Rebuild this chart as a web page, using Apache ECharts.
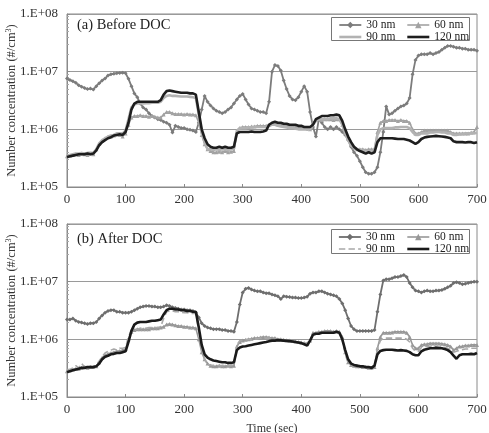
<!DOCTYPE html>
<html>
<head>
<meta charset="utf-8">
<script src="https://cdn.jsdelivr.net/npm/echarts@6/dist/echarts.min.js"></script>
<style>
html,body{margin:0;padding:0;background:#fff;}
#c{width:489px;height:433px;}
</style>
</head>
<body>
<div id="c"></div>
<script>
const time = [0,5,10,15,20,25,30,35,40,45,50,55,60,65,70,75,80,85,90,95,100,105,110,115,120,125,130,135,140,145,150,155,160,165,170,175,180,185,190,195,200,205,210,215,220,225,230,235,240,245,250,255,260,265,270,275,280,285,290,295,300,305,310,315,320,325,330,335,340,345,350,355,360,365,370,375,380,385,390,395,400,405,410,415,420,425,430,435,440,445,450,455,460,465,470,475,480,485,490,495,500,505,510,515,520,525,530,535,540,545,550,555,560,565,570,575,580,585,590,595,600,605,610,615,620,625,630,635,640,645,650,655,660,665,670,675,680,685,690,695,700];

const seriesNames = ['30 nm','60 nm','90 nm','120 nm'];
const panelTitles = ['(a) Before DOC','(b) After DOC'];
const xTicks = [0,100,200,300,400,500,600,700];

// (a) Before DOC
const a30 = [7.6e6,7.2e6,6.8e6,6.4e6,5.8e6,5.5e6,5.2e6,5.0e6,5.1e6,4.9e6,
5.6e6,6.3e6,7.0e6,7.6e6,8.6e6,9.0e6,9.2e6,9.4e6,9.5e6,9.6e6,
9.4e6,7.5e6,5.6e6,4.2e6,3.6e6,2.8e6,2.4e6,2.2e6,1.9e6,1.7e6,
1.6e6,1.5e6,1.45e6,1.35e6,1.3e6,1.2e6,8.8e5,1.15e6,1.1e6,1.05e6,
1.05e6,1.0e6,9.8e5,9.5e5,9.0e5,1.3e6,2.2e6,3.8e6,3.0e6,2.6e6,
2.3e6,2.1e6,2.0e6,1.9e6,2.0e6,2.2e6,2.4e6,2.8e6,3.3e6,3.8e6,
4.1e6,3.3e6,2.7e6,2.3e6,2.2e6,2.1e6,2.0e6,2.0e6,1.9e6,3.0e6,
1.0e7,1.3e7,1.25e7,1.05e7,7.0e6,5.0e6,3.8e6,3.3e6,3.2e6,3.6e6,
4.5e6,5.6e6,4.5e6,2.0e6,1.1e6,7.5e5,1.5e6,1.3e6,1.1e6,1.0e6,
1.1e6,1.0e6,1.1e6,1.0e6,9.0e5,8.0e5,6.5e5,5.0e5,4.0e5,3.5e5,
2.8e5,2.2e5,1.8e5,1.7e5,1.7e5,1.8e5,2.2e5,4.0e5,9.0e5,2.5e6,
1.8e6,1.9e6,2.1e6,2.3e6,2.5e6,2.6e6,2.8e6,3.5e6,9.0e6,1.6e7,
1.9e7,2.0e7,2.0e7,2.0e7,2.1e7,2.0e7,2.1e7,2.2e7,2.4e7,2.6e7,
2.8e7,2.8e7,2.7e7,2.6e7,2.6e7,2.5e7,2.5e7,2.4e7,2.4e7,2.4e7,
2.3e7];
const a60 = [3.4e5,3.5e5,3.6e5,3.7e5,3.6e5,3.8e5,3.7e5,3.6e5,3.8e5,3.7e5,
4.5e5,5.6e5,6.3e5,7.0e5,7.4e5,7.5e5,7.8e5,8.2e5,8.0e5,7.5e5,
8.5e5,1.2e6,1.6e6,1.7e6,1.7e6,1.75e6,1.7e6,1.7e6,1.65e6,1.7e6,
1.65e6,1.6e6,1.6e6,1.8e6,2.0e6,2.0e6,1.9e6,1.85e6,1.85e6,1.85e6,
1.8e6,1.85e6,1.8e6,1.8e6,1.75e6,1.3e6,8.0e5,5.5e5,4.5e5,4.2e5,
4.0e5,4.0e5,4.1e5,4.0e5,4.2e5,4.0e5,4.1e5,4.2e5,9.0e5,1.05e6,
1.1e6,1.1e6,1.1e6,1.12e6,1.12e6,1.15e6,1.15e6,1.15e6,1.15e6,1.2e6,
1.25e6,1.25e6,1.22e6,1.2e6,1.2e6,1.15e6,1.15e6,1.12e6,1.1e6,1.1e6,
1.08e6,1.05e6,1.05e6,1.0e6,1.3e6,1.45e6,1.5e6,1.45e6,1.5e6,1.5e6,
1.5e6,1.45e6,1.5e6,1.5e6,1.2e6,9.0e5,7.0e5,5.5e5,4.8e5,4.5e5,
4.5e5,4.5e5,4.4e5,4.5e5,4.5e5,4.5e5,9.0e5,1.3e6,1.4e6,1.4e6,
1.45e6,1.45e6,1.45e6,1.4e6,1.45e6,1.4e6,1.4e6,1.3e6,1.0e6,8.5e5,
8.5e5,9.0e5,9.5e5,9.5e5,9.5e5,9.5e5,9.5e5,9.5e5,9.5e5,9.5e5,
9.5e5,9.0e5,8.5e5,8.5e5,8.5e5,8.5e5,8.5e5,8.5e5,8.8e5,9.0e5,
1.1e6];
const a90 = [3.5e5,3.6e5,3.7e5,3.8e5,3.8e5,3.9e5,3.8e5,3.9e5,3.9e5,3.9e5,
4.5e5,5.7e5,6.5e5,7.0e5,7.5e5,7.8e5,8.0e5,8.5e5,8.5e5,8.5e5,
9.5e5,1.5e6,2.4e6,2.7e6,2.8e6,2.8e6,2.8e6,2.85e6,2.85e6,2.9e6,
2.9e6,2.9e6,3.0e6,3.5e6,3.8e6,3.9e6,3.8e6,3.8e6,3.75e6,3.7e6,
3.7e6,3.7e6,3.65e6,3.6e6,3.5e6,1.8e6,9.0e5,6.0e5,4.5e5,4.5e5,
4.4e5,4.5e5,4.4e5,4.5e5,4.5e5,4.4e5,4.5e5,4.6e5,9.5e5,1.05e6,
1.05e6,1.05e6,1.08e6,1.08e6,1.1e6,1.1e6,1.1e6,1.1e6,1.1e6,1.15e6,
1.2e6,1.2e6,1.15e6,1.12e6,1.1e6,1.08e6,1.05e6,1.05e6,1.02e6,1.0e6,
1.0e6,1.0e6,9.8e5,1.0e6,1.2e6,1.4e6,1.5e6,1.5e6,1.5e6,1.5e6,
1.55e6,1.55e6,1.55e6,1.5e6,1.2e6,8.5e5,6.5e5,5.2e5,4.8e5,4.5e5,
4.4e5,4.3e5,4.2e5,4.2e5,4.2e5,4.3e5,8.0e5,1.0e6,1.05e6,1.05e6,
1.05e6,1.05e6,1.08e6,1.08e6,1.1e6,1.1e6,1.1e6,1.05e6,9.0e5,8.0e5,
8.0e5,8.5e5,8.5e5,8.5e5,8.8e5,8.8e5,9.0e5,9.0e5,8.8e5,8.8e5,
8.5e5,8.5e5,8.0e5,8.0e5,8.2e5,8.3e5,8.5e5,8.5e5,8.5e5,8.5e5,
8.7e5];
const a120 = [3.3e5,3.4e5,3.5e5,3.6e5,3.7e5,3.7e5,3.7e5,3.8e5,3.7e5,3.8e5,
4.3e5,5.3e5,6.0e5,6.5e5,7.0e5,7.3e5,7.8e5,8.0e5,8.2e5,8.0e5,
9.0e5,1.3e6,2.2e6,2.8e6,3.0e6,3.0e6,3.0e6,3.0e6,3.0e6,3.0e6,
3.0e6,3.0e6,3.2e6,4.0e6,4.6e6,4.7e6,4.6e6,4.5e6,4.4e6,4.3e6,
4.3e6,4.3e6,4.2e6,4.2e6,4.0e6,2.0e6,1.0e6,7.0e5,5.5e5,5.0e5,
4.8e5,4.8e5,5.0e5,4.8e5,5.0e5,4.8e5,4.8e5,5.0e5,8.5e5,9.0e5,
9.0e5,9.0e5,9.0e5,9.2e5,9.0e5,9.0e5,9.0e5,9.2e5,9.5e5,1.2e6,
1.3e6,1.35e6,1.3e6,1.3e6,1.25e6,1.25e6,1.2e6,1.2e6,1.2e6,1.15e6,
1.15e6,1.1e6,1.1e6,1.1e6,1.2e6,1.5e6,1.6e6,1.7e6,1.7e6,1.7e6,
1.75e6,1.75e6,1.8e6,1.75e6,1.4e6,1.0e6,7.5e5,6.0e5,5.0e5,4.5e5,
4.2e5,4.0e5,3.8e5,4.0e5,3.8e5,4.0e5,6.0e5,7.0e5,7.0e5,7.0e5,
7.0e5,7.0e5,6.9e5,6.8e5,6.8e5,6.8e5,6.6e5,6.4e5,6.0e5,5.6e5,
6.0e5,6.8e5,7.2e5,7.4e5,7.5e5,7.6e5,7.7e5,7.6e5,7.5e5,7.4e5,
7.2e5,7.0e5,6.2e5,6.0e5,6.0e5,6.0e5,5.9e5,6.0e5,6.0e5,5.8e5,
6.0e5];

// (b) After DOC
const b30 = [2.2e6,2.2e6,2.3e6,2.1e6,2.0e6,1.95e6,1.9e6,1.85e6,1.9e6,1.9e6,
2.0e6,2.3e6,2.6e6,2.9e6,3.1e6,3.2e6,3.2e6,3.0e6,3.0e6,2.9e6,
2.9e6,2.9e6,3.0e6,3.2e6,3.4e6,3.6e6,3.7e6,3.8e6,3.8e6,3.7e6,
3.7e6,3.6e6,3.6e6,3.7e6,3.9e6,3.8e6,3.6e6,3.5e6,3.4e6,3.3e6,
3.3e6,3.2e6,3.2e6,3.1e6,2.9e6,2.4e6,1.9e6,1.7e6,1.6e6,1.55e6,
1.5e6,1.5e6,1.5e6,1.45e6,1.45e6,1.4e6,1.4e6,1.35e6,2.0e6,4.0e6,
6.5e6,7.5e6,7.8e6,7.3e6,7.0e6,6.8e6,6.8e6,6.5e6,6.3e6,6.3e6,
6.0e6,5.8e6,5.6e6,5.0e6,5.6e6,5.5e6,5.4e6,5.3e6,5.3e6,5.2e6,
5.2e6,5.3e6,5.5e6,6.2e6,6.5e6,6.5e6,6.8e6,6.8e6,6.5e6,6.2e6,
6.0e6,5.8e6,5.6e6,5.0e6,4.2e6,3.2e6,2.3e6,1.7e6,1.5e6,1.4e6,
1.4e6,1.4e6,1.4e6,1.4e6,1.4e6,1.45e6,3.0e6,6.0e6,1.05e7,1.1e7,
1.1e7,1.15e7,1.2e7,1.2e7,1.25e7,1.3e7,1.2e7,9.5e6,8.0e6,7.0e6,
6.8e6,6.5e6,6.8e6,7.0e6,6.8e6,6.8e6,7.0e6,7.0e6,7.2e6,7.5e6,
8.0e6,8.5e6,9.5e6,9.8e6,9.5e6,9.0e6,9.2e6,9.5e6,9.8e6,1.0e7,
1.0e7];
const b60 = [2.8e5,2.9e5,3.0e5,3.1e5,3.1e5,3.2e5,3.3e5,3.2e5,3.3e5,3.3e5,
3.4e5,4.0e5,4.8e5,5.3e5,5.6e5,5.8e5,6.0e5,6.2e5,6.3e5,6.5e5,
6.8e5,1.0e6,1.35e6,1.45e6,1.5e6,1.5e6,1.5e6,1.5e6,1.5e6,1.55e6,
1.55e6,1.55e6,1.6e6,1.65e6,1.8e6,1.85e6,1.8e6,1.75e6,1.7e6,1.7e6,
1.65e6,1.65e6,1.6e6,1.6e6,1.55e6,1.0e6,6.0e5,4.5e5,3.8e5,3.5e5,
3.4e5,3.4e5,3.5e5,3.4e5,3.4e5,3.5e5,3.4e5,3.5e5,7.5e5,9.0e5,
9.5e5,9.8e5,1.0e6,1.02e6,1.05e6,1.05e6,1.08e6,1.1e6,1.1e6,1.08e6,
1.05e6,1.05e6,1.0e6,1.0e6,9.8e5,9.6e5,9.5e5,9.4e5,9.2e5,9.0e5,
8.8e5,8.6e5,8.5e5,9.5e5,1.3e6,1.3e6,1.35e6,1.35e6,1.4e6,1.4e6,
1.4e6,1.35e6,1.4e6,1.35e6,1.1e6,6.0e5,4.0e5,3.6e5,3.5e5,3.4e5,
3.4e5,3.3e5,3.3e5,3.2e5,3.2e5,3.3e5,7.0e5,1.1e6,1.3e6,1.3e6,
1.3e6,1.32e6,1.35e6,1.35e6,1.35e6,1.35e6,1.3e6,1.1e6,8.0e5,7.0e5,
7.0e5,8.0e5,8.2e5,8.3e5,8.5e5,8.5e5,8.5e5,8.5e5,8.4e5,8.2e5,
8.0e5,7.5e5,6.5e5,7.0e5,7.5e5,7.6e5,7.8e5,7.8e5,8.0e5,8.0e5,
8.0e5];
const b90 = [3.0e5,3.0e5,3.2e5,3.5e5,3.2e5,3.8e5,3.3e5,3.5e5,3.4e5,3.3e5,
3.6e5,4.2e5,5.0e5,5.8e5,6.2e5,6.5e5,6.8e5,6.5e5,7.0e5,7.0e5,
7.2e5,1.1e6,1.45e6,1.5e6,1.5e6,1.55e6,1.55e6,1.55e6,1.6e6,1.6e6,
1.6e6,1.6e6,1.65e6,2.3e6,3.0e6,3.1e6,3.1e6,3.0e6,3.0e6,2.95e6,
2.9e6,2.9e6,2.85e6,2.8e6,2.8e6,1.4e6,7.0e5,4.5e5,3.6e5,3.6e5,
3.5e5,3.5e5,3.5e5,3.5e5,3.6e5,3.5e5,3.5e5,3.6e5,8.0e5,9.5e5,
9.5e5,9.8e5,1.0e6,1.0e6,1.02e6,1.02e6,1.05e6,1.05e6,1.05e6,1.05e6,
1.02e6,1.0e6,1.0e6,9.8e5,9.6e5,9.5e5,9.3e5,9.2e5,9.0e5,8.8e5,
8.6e5,8.5e5,8.5e5,9.5e5,1.25e6,1.3e6,1.3e6,1.3e6,1.3e6,1.3e6,
1.3e6,1.3e6,1.3e6,1.3e6,1.0e6,5.5e5,3.9e5,3.6e5,3.5e5,3.4e5,
3.4e5,3.3e5,3.3e5,3.3e5,3.3e5,3.4e5,7.0e5,9.5e5,1.05e6,1.05e6,
1.05e6,1.05e6,1.05e6,1.05e6,1.05e6,1.05e6,1.0e6,9.0e5,7.0e5,6.2e5,
6.2e5,7.2e5,7.5e5,7.5e5,7.5e5,7.6e5,7.5e5,7.5e5,7.4e5,7.2e5,
7.0e5,6.5e5,6.0e5,6.2e5,6.5e5,6.6e5,6.8e5,6.8e5,7.0e5,7.0e5,
7.0e5];
const b120 = [2.7e5,2.8e5,2.9e5,3.0e5,3.1e5,3.2e5,3.2e5,3.3e5,3.3e5,3.3e5,
3.4e5,3.8e5,4.5e5,5.0e5,5.2e5,5.5e5,5.6e5,5.8e5,5.8e5,6.0e5,
6.2e5,9.0e5,1.4e6,1.8e6,1.95e6,2.0e6,2.0e6,2.0e6,2.05e6,2.1e6,
2.1e6,2.15e6,2.2e6,2.7e6,3.2e6,3.4e6,3.4e6,3.3e6,3.3e6,3.2e6,
3.2e6,3.1e6,3.1e6,3.0e6,3.0e6,1.6e6,8.0e5,5.5e5,4.8e5,4.5e5,
4.3e5,4.2e5,4.1e5,4.0e5,4.0e5,3.9e5,3.9e5,4.0e5,6.5e5,7.2e5,
7.5e5,7.6e5,7.8e5,8.0e5,8.2e5,8.4e5,8.6e5,8.8e5,9.0e5,9.3e5,
9.5e5,9.5e5,9.7e5,9.6e5,9.5e5,9.4e5,9.3e5,9.2e5,9.0e5,8.8e5,
8.6e5,8.2e5,7.8e5,9.5e5,1.2e6,1.25e6,1.25e6,1.3e6,1.3e6,1.3e6,
1.3e6,1.3e6,1.35e6,1.3e6,1.0e6,6.5e5,4.5e5,3.8e5,3.6e5,3.5e5,
3.4e5,3.4e5,3.3e5,3.3e5,3.2e5,3.5e5,5.5e5,6.3e5,6.5e5,6.6e5,
6.6e5,6.6e5,6.5e5,6.4e5,6.5e5,6.4e5,6.3e5,6.0e5,5.5e5,5.3e5,
5.3e5,6.2e5,6.6e5,6.8e5,7.0e5,7.0e5,7.1e5,7.0e5,7.0e5,6.8e5,
6.5e5,6.0e5,5.2e5,4.6e5,5.3e5,5.5e5,5.5e5,5.5e5,5.6e5,5.5e5,
5.8e5];

const SERIF = '"Liberation Serif","DejaVu Serif",serif';
const pairs = v => time.map((t, i) => [t, v[i]]);

const styles = [
  [
    {color:'#7c7c7c', width:1.8, symbol:'diamond', size:4, type:'solid'},
    {color:'#a2a2a2', width:1.6, symbol:'triangle', size:4, type:'solid'},
    {color:'#b2b2b2', width:2.6, symbol:'none', size:0, type:'solid'},
    {color:'#1e1e1e', width:2.6, symbol:'none', size:0, type:'solid'}
  ],
  [
    {color:'#6e6e6e', width:1.8, symbol:'diamond', size:4, type:'solid'},
    {color:'#989898', width:1.6, symbol:'triangle', size:4, type:'solid'},
    {color:'#a8a8a8', width:1.6, symbol:'none', size:0, type:'dashed'},
    {color:'#1a1a1a', width:2.6, symbol:'none', size:0, type:'solid'}
  ]
];
const panelData = [[a30, a60, a90, a120], [b30, b60, b90, b120]];
const drawOrder = [2, 1, 3, 0];

const series = [];
for (let p = 0; p < 2; p++) {
  for (const k of drawOrder) {
    const s = styles[p][k];
    const noSym = s.symbol === 'none';
    series.push({
      name: seriesNames[k],
      type: 'line',
      xAxisIndex: p, yAxisIndex: p,
      data: pairs(panelData[p][k]),
      symbol: noSym ? 'none' : s.symbol,
      symbolSize: s.size,
      showSymbol: !noSym,
      showAllSymbol: true,
      lineStyle: {color: s.color, width: s.width, type: s.type},
      itemStyle: {color: s.color},
      z: 2 + k,
      silent: true
    });
  }
}

const grids = [
  {left: 67, top: 14, width: 410, height: 173},
  {left: 67, top: 224, width: 410, height: 173}
].map(g => Object.assign(g, {show: true, borderColor: '#8a8a8a', borderWidth: 1,
  backgroundColor: 'transparent', containLabel: false, outerBoundsMode: 'none'}));

const xAxes = [0, 1].map(p => ({
  type: 'value', gridIndex: p, min: 0, max: 700, interval: 100,
  name: p === 1 ? 'Time (sec)' : '',
  nameLocation: 'middle', nameGap: 26, nameMoveOverlap: false,
  nameTextStyle: {fontFamily: SERIF, fontSize: 12, color: '#333'},
  axisLine: {show: true, lineStyle: {color: '#8a8a8a'}},
  axisTick: {show: true, inside: true, length: 3, lineStyle: {color: '#8a8a8a'}},
  axisLabel: {fontFamily: SERIF, fontSize: 13, color: '#333', margin: 6,
              formatter: v => xTicks.includes(v) ? String(v) : ''},
  splitLine: {show: false}
}));

const yAxes = [0, 1].map(p => ({
  type: 'log', logBase: 10, gridIndex: p, min: 1e5, max: 1e8,
  name: 'Number concentration (#/cm{sup|3})',
  nameLocation: 'middle', nameGap: 48, nameMoveOverlap: false,
  nameTextStyle: {fontFamily: SERIF, fontSize: 12.5, color: '#333',
    rich: {sup: {fontFamily: SERIF, fontSize: 8, color: '#333', verticalAlign: 'top', padding: [0, 0, 6, 0]}}},
  axisLine: {show: true, lineStyle: {color: '#8a8a8a'}},
  axisTick: {show: true, inside: true, length: 3, lineStyle: {color: '#8a8a8a'}},
  minorTick: {show: true, splitNumber: 9, length: 2, lineStyle: {color: '#aaaaaa'}},
  axisLabel: {fontFamily: SERIF, fontSize: 13, color: '#333', margin: 9,
    formatter: v => '1.E+0' + Math.round(Math.log10(v))},
  splitLine: {show: true, lineStyle: {color: '#9a9a9a', width: 1}}
}));

const legendText = {fontFamily: SERIF, fontSize: 11.5, color: '#222', lineHeight: 10};
function legendFor(p, names, left, top) {
  return {
    data: names.map(n => {
      const k = seriesNames.indexOf(n);
      const s = styles[p][k];
      const noSym = s.symbol === 'none';
      return {name: n, lineStyle: {color: s.color, width: s.width, type: s.type},
              itemStyle: {color: s.color, opacity: noSym ? 0 : 1}};
    }),
    orient: 'vertical', left: left, top: top, itemGap: 0, padding: 0,
    itemWidth: 22, itemHeight: 8, selectedMode: false,
    textStyle: legendText
  };
}
const legends = [
  legendFor(0, ['30 nm', '90 nm'], 338, 19),
  legendFor(0, ['60 nm', '120 nm'], 406, 19),
  legendFor(1, ['30 nm', '90 nm'], 338, 231),
  legendFor(1, ['60 nm', '120 nm'], 406, 231)
];

const titles = panelTitles.map((t, i) => ({
  text: t, left: 77, top: i === 0 ? 18 : 232, padding: 0,
  textStyle: {fontFamily: SERIF, fontSize: 14.5, fontWeight: 'normal', color: '#222'}
}));

const chart = echarts.init(document.getElementById('c'), null, {renderer: 'canvas'});
chart.setOption({
  animation: false,
  backgroundColor: '#fff',
  title: titles,
  grid: grids,
  xAxis: xAxes,
  yAxis: yAxes,
  legend: legends,
  graphic: [
    {type: 'rect', shape: {x: 331.5, y: 17.5, width: 138, height: 23}, style: {fill: 'none', stroke: '#777', lineWidth: 1}, z: 100},
    {type: 'rect', shape: {x: 331.5, y: 229.5, width: 138, height: 24}, style: {fill: 'none', stroke: '#777', lineWidth: 1}, z: 100}
  ],
  series: series
});
</script>
</body>
</html>
